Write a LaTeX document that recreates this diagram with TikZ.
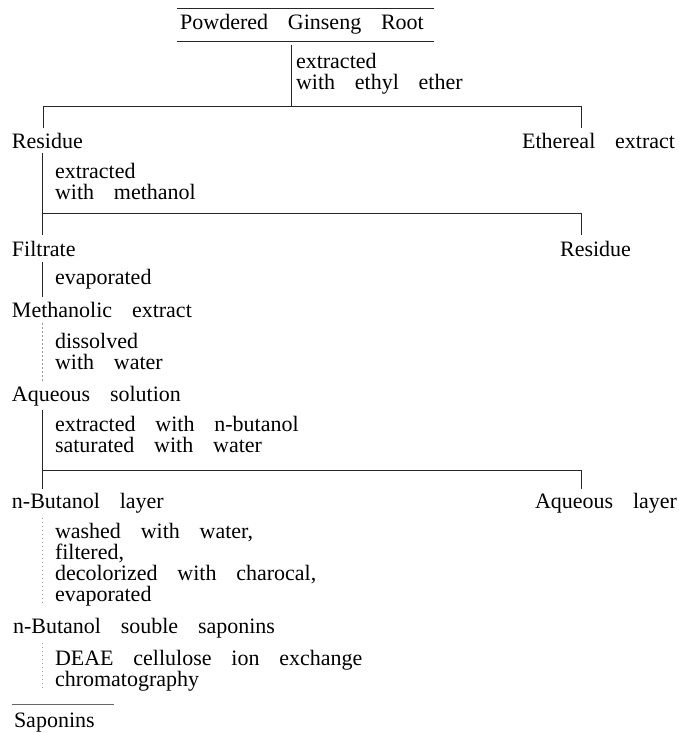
\documentclass[tikz,border=0pt]{standalone}
\usepackage{fontspec}
\setmainfont{Liberation Serif}[WordSpace=3.6]

\begin{document}
\begin{tikzpicture}[x=1pt,y=-1pt,
    stage/.style={anchor=base west, inner sep=0pt, outer sep=0pt,
                  font=\fontsize{22}{21}\selectfont},
    treat/.style={stage, align=left},
    rule/.style={line width=0.8pt, black!85},
    faint/.style={line width=0.8pt, black!40, dash pattern=on 1.5pt off 2.5pt}]
   \useasboundingbox (0,0) rectangle (679,733);

   % stages
   \node[stage, anchor=base] (root) at (302,30) {Powdered Ginseng Root};
   \node[stage] (residueA) at (12,148) {Residue};
   \node[stage, anchor=base east] (ethereal) at (675,148) {Ethereal extract};
   \node[stage] (filtrate) at (12,256) {Filtrate};
   \node[stage, anchor=base east] (residueB) at (631,256) {Residue};
   \node[stage] (methext) at (12,317) {Methanolic extract};
   \node[stage] (aqsol) at (12,401) {Aqueous solution};
   \node[stage] (butlayer) at (12,508) {n-Butanol layer};
   \node[stage, anchor=base east] (aqlayer) at (677,508) {Aqueous layer};
   \node[stage] (butsap) at (13,633) {n-Butanol souble saponins};
   \node[stage] (saponins) at (14,727) {Saponins};

   % treatments (placed by their last line)
   \node[treat] (ether) at (296,90) {extracted\\with ethyl ether};
   \node[treat] (meoh) at (55,199) {extracted\\with methanol};
   \node[treat] (evapA) at (55,284) {evaporated};
   \node[treat] (water) at (55,369) {dissolved\\with water};
   \node[treat] (butoh) at (55,452) {extracted with n-butanol\\saturated with water};
   \node[treat] (wash) at (55,601) {washed with water,\\filtered,\\decolorized with charocal,\\evaporated};
   \node[treat] (deae) at (55,686) {DEAE cellulose ion exchange\\chromatography};

   % split points
   \coordinate (splitA) at (291,106);
   \coordinate (leftA) at (43,106);
   \coordinate (rightA) at (581,106);
   \coordinate (leftB) at (42,213);
   \coordinate (rightB) at (581,213);
   \coordinate (leftC) at (42,470);
   \coordinate (rightC) at (581,470);
   \coordinate (endF) at (42,690);

   % box round the starting material
   \draw[rule] ([xshift=-3pt]root.north west |- 0,8) -- ([xshift=10pt]root.north east |- 0,8);
   \draw[rule] ([xshift=-3pt]root.south west |- 0,41) -- ([xshift=10pt]root.south east |- 0,41);

   % first extraction
   \draw[rule] (splitA |- 0,45) -- (splitA);
   \draw[rule] (leftA) -- (rightA);
   \draw[rule, shorten >=5pt] (leftA) -- (leftA |- residueA.north);
   \draw[rule, shorten >=5pt] (rightA) -- (rightA |- ethereal.north);

   % second extraction
   \draw[rule, shorten <=5pt, shorten >=6pt] (residueA.south -| leftB) -- (filtrate.north -| leftB);
   \draw[rule] (leftB) -- (rightB);
   \draw[rule, shorten >=6pt] (rightB) -- (rightB |- residueB.north);

   % concentration
   \draw[rule, shorten <=6pt, shorten >=5pt] (filtrate.south -| leftB) -- (methext.north -| leftB);
   \draw[faint, shorten <=6pt, shorten >=5pt] (methext.south -| leftB) -- (aqsol.north -| leftB);

   % partition
   \draw[rule, shorten <=4pt, shorten >=4pt] (aqsol.south -| leftC) -- (butlayer.north -| leftC);
   \draw[rule] (leftC) -- (rightC);
   \draw[rule, shorten >=4pt] (rightC) -- (rightC |- aqlayer.north);

   % clean-up and column
   \draw[faint, shorten <=5pt, shorten >=12pt] (butlayer.south -| leftC) -- (butsap.north -| leftC);
   \draw[faint, shorten <=5pt] (butsap.south -| endF) -- (endF);
   \draw[rule, black!60] ([xshift=-2pt]saponins.north west |- 0,704) -- ([xshift=19pt]saponins.north east |- 0,704);
\end{tikzpicture}
\end{document}
